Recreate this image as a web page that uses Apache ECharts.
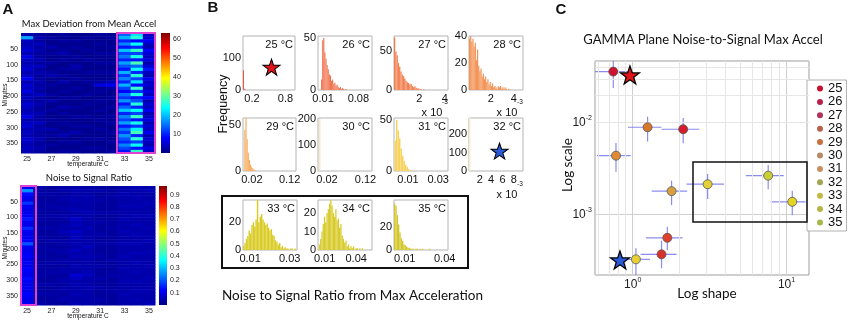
<!DOCTYPE html>
<html>
<head>
<meta charset="utf-8">
<script src="https://cdn.jsdelivr.net/npm/echarts@6/dist/echarts.min.js"></script>
<style>html,body{margin:0;padding:0;background:#fff}#chart{width:850px;height:321px}</style>
</head>
<body>
<div id="chart"></div>
<script>
// ---------- data ----------
const temps = ['25', '26', '27', '28', '29', '30', '31', '32', '33', '34', '35'];

// A: max deviation from mean accel, one array per temperature, 10-minute rows
const maxDev25 = [3,18,4,3,4,5,3,6,4,3,4,5,3,4,7,3,5,4,6,3,4,3,5,4,3,4,6,3,4,5,3,4,3,5,4,3,4,3];
const maxDev26 = [2,3,2,4,2,3,2,2,3,2,4,2,3,2,2,3,2,3,2,4,2,2,3,2,2,3,2,2,4,2,3,2,2,3,2,2,3,2];
const maxDev27 = [1,2,1,1,3,1,2,1,1,2,1,1,2,3,1,1,2,1,1,2,1,3,1,1,2,1,1,2,1,1,3,1,2,1,1,2,1,1];
const maxDev28 = [2,1,2,1,1,2,3,1,2,1,1,2,1,2,1,3,1,1,2,1,2,1,1,3,1,2,1,1,2,1,1,2,3,1,2,1,1,2];
const maxDev29 = [1,1,2,1,2,1,1,2,1,1,3,2,1,1,2,1,1,2,1,1,2,1,1,2,1,1,2,1,1,2,1,3,1,1,2,1,1,2];
const maxDev30 = [1,2,1,1,1,2,1,1,2,1,1,1,2,1,1,2,1,1,1,2,1,1,2,1,1,1,2,1,1,2,1,1,1,2,1,1,2,1];
const maxDev31 = [2,1,1,2,1,1,2,1,1,2,1,1,2,1,1,2,6,1,2,1,1,2,1,1,2,1,1,2,1,1,2,1,1,2,1,1,2,1];
const maxDev32 = [1,2,1,1,2,1,2,1,1,2,1,1,2,1,1,3,7,2,1,1,2,1,1,2,1,1,2,1,2,1,1,2,1,1,2,1,1,2];
const maxDev33 = [14,19,10,16,9,20,12,15,10,18,13,9,19,11,16,10,19,12,8,15,11,17,9,14,20,10,16,12,18,9,15,11,17,13,10,16,12,9];
const maxDev34 = [22,26,8,24,10,27,12,25,9,28,14,24,10,26,12,22,8,27,11,25,9,13,26,10,24,12,27,9,25,11,23,28,10,26,12,24,9,27];
const maxDev35 = [4,5,7,4,3,8,5,4,6,3,5,9,4,3,7,4,5,3,6,4,8,3,5,4,7,3,4,6,3,5,4,7,3,5,4,3,6,4];

// A: noise to signal ratio
const noise25 = [0.12,0.26,0.13,0.11,0.1,0.17,0.11,0.1,0.1,0.11,0.14,0.1,0.1,0.16,0.11,0.1,0.11,0.12,0.2,0.11,0.1,0.11,0.12,0.1,0.11,0.1,0.12,0.11,0.1,0.13,0.11,0.1,0.11,0.1,0.12,0.11,0.1,0.11];
const noise26 = [0.04,0.03,0.04,0.03,0.03,0.04,0.03,0.04,0.03,0.03,0.04,0.03,0.03,0.04,0.03,0.03,0.04,0.03,0.03,0.04,0.03,0.03,0.04,0.03,0.03,0.04,0.03,0.03,0.04,0.03,0.03,0.04,0.03,0.03,0.04,0.03,0.03,0.04];
const noise27 = [0.03,0.03,0.04,0.03,0.03,0.03,0.04,0.03,0.03,0.04,0.03,0.03,0.03,0.04,0.03,0.03,0.03,0.04,0.03,0.03,0.04,0.03,0.03,0.03,0.04,0.03,0.03,0.04,0.03,0.03,0.03,0.04,0.03,0.03,0.04,0.03,0.03,0.03];
const noise28 = [0.04,0.04,0.03,0.04,0.04,0.03,0.04,0.04,0.03,0.04,0.04,0.03,0.04,0.04,0.05,0.04,0.03,0.04,0.04,0.03,0.04,0.04,0.03,0.04,0.04,0.03,0.04,0.04,0.03,0.04,0.04,0.03,0.04,0.04,0.03,0.04,0.04,0.03];
const noise29 = [0.04,0.05,0.04,0.04,0.05,0.04,0.04,0.05,0.04,0.04,0.07,0.05,0.06,0.04,0.07,0.05,0.06,0.04,0.05,0.04,0.06,0.04,0.05,0.04,0.04,0.05,0.04,0.04,0.08,0.06,0.04,0.05,0.04,0.04,0.05,0.04,0.04,0.05];
const noise30 = [0.04,0.04,0.04,0.05,0.04,0.04,0.04,0.04,0.05,0.04,0.04,0.04,0.04,0.05,0.04,0.04,0.04,0.04,0.04,0.06,0.04,0.04,0.05,0.04,0.04,0.04,0.04,0.05,0.06,0.04,0.04,0.04,0.05,0.04,0.04,0.04,0.04,0.04];
const noise31 = [0.03,0.04,0.03,0.03,0.04,0.03,0.03,0.03,0.04,0.03,0.03,0.04,0.03,0.03,0.03,0.04,0.03,0.03,0.04,0.03,0.03,0.03,0.04,0.03,0.03,0.04,0.03,0.03,0.03,0.04,0.03,0.03,0.04,0.03,0.03,0.03,0.04,0.03];
const noise32 = [0.03,0.03,0.03,0.04,0.03,0.03,0.03,0.03,0.04,0.03,0.03,0.03,0.03,0.04,0.03,0.03,0.03,0.03,0.04,0.03,0.03,0.03,0.03,0.04,0.03,0.03,0.03,0.03,0.04,0.03,0.03,0.03,0.03,0.04,0.03,0.03,0.03,0.03];
const noise33 = [0.04,0.04,0.05,0.04,0.04,0.04,0.05,0.04,0.04,0.04,0.05,0.04,0.04,0.04,0.05,0.04,0.04,0.04,0.05,0.04,0.04,0.04,0.05,0.04,0.04,0.04,0.05,0.04,0.04,0.04,0.05,0.04,0.04,0.04,0.05,0.04,0.04,0.04];
const noise34 = [0.05,0.04,0.04,0.05,0.04,0.04,0.05,0.04,0.04,0.05,0.04,0.04,0.05,0.04,0.04,0.05,0.04,0.04,0.05,0.04,0.04,0.05,0.04,0.04,0.05,0.04,0.04,0.05,0.04,0.04,0.05,0.04,0.04,0.05,0.04,0.04,0.05,0.04];
const noise35 = [0.04,0.05,0.04,0.04,0.04,0.05,0.04,0.04,0.04,0.05,0.04,0.04,0.04,0.05,0.04,0.04,0.04,0.05,0.04,0.04,0.04,0.05,0.04,0.04,0.04,0.05,0.04,0.04,0.04,0.05,0.04,0.04,0.04,0.05,0.04,0.04,0.04,0.05];

// B: histogram counts per temperature
const hist25 = [62, 4, 1, 1];
const hist26 = [10,48,50,36,30,24,20,15,14,9,10,6,7,4,5,3,2,3,1,2,1,0,1];
const hist27 = [68,50,45,35,30,24,20,18,15,12,10,9,7,8,5,4,5,3,2,2,1,1,0,1];
const hist28 = [38,40,36,38,32,35,22,30,18,14,16,10,12,8,10,6,8,4,6,3,5,2,3,2,1,3,2,3,1,2,1,2,1,0,1];
const hist29 = [45,58,35,20,12,7,4,3,2,1];
const hist30 = [200];
const hist31 = [30,50,40,32,22,15,10,6,4,2,1];
const hist32 = [290];
const hist33 = [3,5,8,10,14,12,18,20,17,22,36,20,24,26,22,20,18,19,16,14,15,11,10,7,6,4,5,2,3,1,2,1,1,0,1,1,0,1];
const hist34 = [3,6,10,14,18,15,20,22,25,27,24,20,18,22,16,17,12,14,8,6,4,5,2,3,1,2,1,2,0,1,1,0,1,0,1];
const hist35 = [40,38,30,22,15,10,8,5,4,3,2,2,1,1,1,0,1,1,0,1,0,1,0,0,0,0,1];
const histCounts = [hist25, hist26, hist27, hist28, hist29, hist30, hist31, hist32, hist33, hist34, hist35];
// first bin start and bin width (27, 28, 32 in units of 1e-3)
const binStart = [0.04, 0.006, 0, 0.1, 0, 0, 0.001, 0.1, 0.0064, 0.0045, 0.002];
const binWidth = [0.012, 0.0022, 0.1, 0.1, 0.003, 0.002, 0.001, 0.25, 0.0007, 0.0012, 0.001];
const histXMin = [0.04, 0, 0, 0.1, -0.0035, -0.0035, 0.0007, 0.1, 0.0064, 0.0037, 0.002];
const histXMax = [0.97, 0.107, 4.25, 4.8, 0.137, 0.137, 0.0365, 9.6, 0.0337, 0.055, 0.0425];
const histYMax = [170, 52, 70, 40, 58, 204, 52, 290, 36, 27, 43];
const histXTicks = [[0.2, 0.8], [0.01, 0.08], [2, 4], [2, 4], [0.02, 0.12], [0.02, 0.12], [0.01, 0.03], [2, 4, 6, 8], [0.01, 0.03], [0.01, 0.04], [0.01, 0.04]];
const histYTicks = [[0, 100], [0, 50], [0, 50], [0, 20, 40], [0, 50], [0, 100, 200], [0, 50], [0, 100, 200], [0, 20], [0, 10, 20], [0, 20]];
// star markers inside the 25 and 32 panels (panel index, x, y)
const histStars = [[0, 0.55, 72, '#e01418'], [7, 5.47, 109, '#2a5ad8']];

// C: gamma fit, shape and scale with ranges
const shapeVals = [0.748, 2.13, 1.68, 1.25, 0.779, 1.54, 1.79, 1.05, 3.07, 7.6, 10.9];
const shapeLo   = [0.5, 1.54, 1.22, 0.932, 0.586, 1.127, 1.33, 0.827, 2.24, 5.44, 7.87];
const shapeHi   = [0.932, 2.71, 2.11, 1.54, 0.97, 1.93, 2.26, 1.295, 3.92, 9.6, 13.3];
const scaleVals = [0.036, 0.00847, 0.000555, 0.00891, 0.00436, 0.000366, 0.00179, 0.000323, 0.00213, 0.00264, 0.00137];
const scaleLo   = [0.0239, 0.00596, 0.000407, 0.00621, 0.00292, 0.000258, 0.00126, 0.000217, 0.00147, 0.00188, 0.00098];
const scaleHi   = [0.06, 0.01125, 0.000733, 0.01163, 0.006, 0.000515, 0.00233, 0.000426, 0.00276, 0.00345, 0.00181];
const starRed = [0.96, 0.0331];
const starBlue = [0.827, 0.000318];

// ---------- styling ----------
const TICK_FONT = 'Liberation Sans';
const TITLE_FONT = 'Lato';
const jet = ['#000080', '#0000ff', '#0080ff', '#00ffff', '#80ff80', '#ffff00', '#ff8000', '#ff0000', '#800000'];
const histColors = ['#e8412c', '#f0643c', '#f27440', '#f3853f', '#f7a24a', '#f9d9a7', '#f8cf55', '#f8eec0', '#d7c812', '#d4c615', '#cfc31a'];
const histLayout = [
    [243, 36, 52, 54], [318, 36, 54, 54], [394, 36, 54, 54], [469, 36, 54, 54],
    [243, 118, 53, 53], [318, 118, 54, 53], [394, 118, 54, 53], [469, 118, 54, 53],
    [243, 200, 54, 50], [318, 200, 54, 50], [394, 200, 54, 50]
];
const pointColors = ['#d0122e', '#d41c2c', '#e0402a', '#d8782a', '#e08c34', '#d8302a', '#d8a040', '#e6d034', '#e2d036', '#cad034', '#e4d424'];
const legendColors = ['#c8102e', '#b8204e', '#b0305e', '#b86048', '#c87040', '#b88a68', '#c89060', '#a4a454', '#c4b848', '#b8b444', '#a8b848'];
const STAR = 'path://M50,0L61.8,35.1L98.1,35.1L68.8,56.7L79.4,91L50,70L20.6,91L31.2,56.7L1.9,35.1L38.2,35.1Z';

let dom = document.getElementById('chart');
let myChart = echarts.init(dom, null, { renderer: 'canvas' });

const grids = [], xAxes = [], yAxes = [], series = [], visualMaps = [], graphics = [];

function heatCell(params, api) {
    const p = api.coord([api.value(0), api.value(1)]);
    const s = api.size([1, 10]);
    return {
        type: 'rect',
        shape: { x: p[0] - s[0] / 2, y: p[1], width: s[0] + 0.5, height: s[1] + 0.5 },
        style: { fill: api.visual('color') }
    };
}

function colorBar(params, api) {
    const top = api.coord([0, api.value(2)]);
    const bot = api.coord([0, api.value(1)]);
    const w = api.size([1, 0])[0];
    const stops = jet.slice().reverse().map((c, i) => ({ offset: i / (jet.length - 1), color: c }));
    return {
        type: 'rect',
        shape: { x: top[0] - w / 2, y: top[1], width: w, height: bot[1] - top[1] },
        style: { fill: { type: 'linear', x: 0, y: 0, x2: 0, y2: 1, colorStops: stops } }
    };
}

// panel A heatmap + colorbar
function addHeat(cols, box, cbarBox, vmax, cbInterval) {
    const gi = grids.length;
    grids.push({ left: box[0], top: box[1], width: box[2], height: box[3] });
    grids.push({ left: cbarBox[0], top: cbarBox[1], width: cbarBox[2], height: cbarBox[3] });
    xAxes.push({
        type: 'category', gridIndex: gi, data: temps,
        axisLine: { show: false }, axisTick: { show: false },
        axisLabel: { interval: 1, fontSize: 7, margin: 3, color: '#222', fontFamily: TICK_FONT }
    });
    yAxes.push({
        type: 'value', gridIndex: gi, inverse: true, min: 0, max: 380, interval: 50,
        axisLine: { show: false }, axisTick: { show: false }, splitLine: { show: false },
        axisLabel: { showMinLabel: false, showMaxLabel: false, fontSize: 7, margin: 3, color: '#222', fontFamily: TICK_FONT }
    });
    xAxes.push({ type: 'category', gridIndex: gi + 1, data: ['c'], show: false });
    yAxes.push({
        type: 'value', gridIndex: gi + 1, position: 'right', min: 0, max: vmax, interval: cbInterval,
        axisLine: { show: false }, axisTick: { show: false }, splitLine: { show: false },
        axisLabel: { showMinLabel: false, showMaxLabel: false, fontSize: 7, margin: 3, color: '#222', fontFamily: TICK_FONT }
    });
    const data = [];
    cols.forEach((col, i) => col.forEach((v, r) => data.push([i, r * 10, v])));
    visualMaps.push({
        show: false, seriesIndex: series.length, dimension: 2, min: 0, max: vmax,
        inRange: { color: jet }
    });
    series.push({
        type: 'custom', xAxisIndex: gi, yAxisIndex: gi, renderItem: heatCell,
        data: data, silent: true
    });
    series.push({
        type: 'custom', xAxisIndex: gi + 1, yAxisIndex: gi + 1, renderItem: colorBar,
        data: [[0, 0, vmax]], silent: true
    });
}

addHeat([maxDev25, maxDev26, maxDev27, maxDev28, maxDev29, maxDev30, maxDev31, maxDev32, maxDev33, maxDev34, maxDev35],
    [21, 33, 134, 120], [161, 33, 9, 120], 63, 10);
addHeat([noise25, noise26, noise27, noise28, noise29, noise30, noise31, noise32, noise33, noise34, noise35],
    [21, 186, 134, 119], [159, 186, 8, 119], 0.97, 0.1);

// panel B histograms
const histGrid = [];
histCounts.forEach((counts, k) => {
    const gi = grids.length;
    histGrid.push(gi);
    const L = histLayout[k];
    grids.push({ left: L[0], top: L[1], width: L[2], height: L[3], show: true, borderColor: '#b4b4b4', borderWidth: 1, backgroundColor: '#fff' });
    xAxes.push({
        type: 'value', gridIndex: gi, min: histXMin[k], max: histXMax[k],
        axisLine: { show: false }, axisTick: { show: false }, splitLine: { show: false },
        axisLabel: { customValues: histXTicks[k], fontSize: 11, margin: 3, color: '#111', fontFamily: TICK_FONT }
    });
    yAxes.push({
        type: 'value', gridIndex: gi, min: 0, max: histYMax[k],
        axisLine: { show: false }, axisTick: { show: false }, splitLine: { show: false },
        axisLabel: { customValues: histYTicks[k], fontSize: 11, margin: 2, color: '#111', fontFamily: TICK_FONT }
    });
    const w = binWidth[k];
    const color = histColors[k];
    series.push({
        type: 'custom', xAxisIndex: gi, yAxisIndex: gi, clip: true, silent: true,
        data: counts.map((c, i) => [binStart[k] + i * w, c]),
        renderItem: function (params, api) {
            const p0 = api.coord([api.value(0), 0]);
            const p1 = api.coord([api.value(0) + w, api.value(1)]);
            return {
                type: 'rect',
                shape: { x: p0[0], y: p1[1], width: Math.max(p1[0] - p0[0], 1), height: p0[1] - p1[1] },
                style: { fill: color, stroke: 'rgba(255,255,255,0.35)', lineWidth: 0.3 }
            };
        }
    });
    graphics.push({
        type: 'text', x: L[0] + L[2] - 2, y: L[1] + 3, z: 100,
        style: { text: temps[k] + ' °C', fontSize: 11, fontFamily: TICK_FONT, fill: '#111', align: 'right', verticalAlign: 'top' }
    });
});
histStars.forEach(s => {
    const gi = histGrid[s[0]];
    series.push({
        type: 'scatter', xAxisIndex: gi, yAxisIndex: gi, silent: true, z: 6,
        symbol: STAR, symbolSize: [17, 16], data: [[s[1], s[2]]],
        itemStyle: { color: s[3], borderColor: '#000', borderWidth: 1, opacity: 1 }
    });
});

// panel C
const gC = grids.length;
grids.push({ left: 595, top: 61, width: 214, height: 214, show: true, borderColor: '#9a9a9a', borderWidth: 1 });
function powLabel(v) {
    const e = Math.round(Math.log10(v));
    if (Math.abs(Math.log10(v) - e) > 1e-6) return '';
    return '{b|10}{s|' + e + '}';
}
const powRich = {
    b: { fontSize: 12, fontFamily: TICK_FONT, color: '#222', lineHeight: 16 },
    s: { fontSize: 7, fontFamily: TICK_FONT, color: '#222', verticalAlign: 'top' }
};
xAxes.push({
    type: 'log', logBase: 10, gridIndex: gC, min: 0.569, max: 14,
    axisLine: { show: false }, axisTick: { show: false },
    splitLine: { show: true, lineStyle: { color: '#cfcfcf' } },
    axisLabel: { formatter: powLabel, rich: powRich, margin: 2 }
});
yAxes.push({
    type: 'log', logBase: 10, gridIndex: gC, min: 0.000218, max: 0.047,
    axisLine: { show: false }, axisTick: { show: false },
    splitLine: { show: true, lineStyle: { color: '#cfcfcf' } },
    axisLabel: { formatter: powLabel, rich: powRich, margin: 3 }
});
const minorX = [0.6, 0.7, 0.8, 0.9, 2, 3, 4, 5, 6, 7, 8, 9];
const minorY = [0.0003, 0.0004, 0.0005, 0.0006, 0.0007, 0.0008, 0.0009,
    0.002, 0.003, 0.004, 0.005, 0.006, 0.007, 0.008, 0.009, 0.02, 0.03, 0.04];
series.push({
    type: 'scatter', xAxisIndex: gC, yAxisIndex: gC, data: [[1, 0.001]], symbolSize: 0, silent: true,
    markLine: {
        silent: true, symbol: 'none', label: { show: false }, animation: false,
        lineStyle: { color: '#e6e6e6', width: 1, type: 'solid' },
        data: minorX.map(v => ({ xAxis: v })).concat(minorY.map(v => ({ yAxis: v })))
    }
});
series.push({
    type: 'custom', xAxisIndex: gC, yAxisIndex: gC, clip: true, silent: true, z: 3,
    data: temps.map((t, i) => [shapeVals[i], scaleVals[i], shapeLo[i], shapeHi[i], scaleLo[i], scaleHi[i]]),
    renderItem: function (params, api) {
        const c = api.coord([api.value(0), api.value(1)]);
        const xl = api.coord([api.value(2), api.value(1)]);
        const xh = api.coord([api.value(3), api.value(1)]);
        const yl = api.coord([api.value(0), api.value(4)]);
        const yh = api.coord([api.value(0), api.value(5)]);
        const st = { stroke: 'rgba(120,120,235,0.85)', lineWidth: 1.2 };
        return {
            type: 'group', children: [
                { type: 'line', shape: { x1: xl[0], y1: c[1], x2: xh[0], y2: c[1] }, style: st },
                { type: 'line', shape: { x1: c[0], y1: yl[1], x2: c[0], y2: yh[1] }, style: st }
            ]
        };
    }
});
temps.forEach((t, i) => {
    series.push({
        type: 'scatter', name: t, xAxisIndex: gC, yAxisIndex: gC, z: 5,
        data: [[shapeVals[i], scaleVals[i]]], symbolSize: 9,
        itemStyle: { color: pointColors[i], borderColor: '#555', borderWidth: 0.8, opacity: 1 }
    });
});
series.push({
    type: 'scatter', name: 'stars', xAxisIndex: gC, yAxisIndex: gC, z: 6,
    symbol: STAR, symbolSize: [19, 18],
    data: [
        { value: starRed, itemStyle: { color: '#e01418' } },
        { value: starBlue, itemStyle: { color: '#2a5ad8' } }
    ],
    itemStyle: { borderColor: '#000', borderWidth: 1.2, opacity: 1 }
});

// text & frames
function txt(text, x, y, size, font, extra) {
    const el = {
        type: 'text', x: x, y: y, z: 100,
        style: { text: text, fontSize: size, fontFamily: font, fill: '#111', align: 'center', verticalAlign: 'middle' }
    };
    if (extra) {
        if (extra.rotation) el.rotation = extra.rotation;
        Object.assign(el.style, extra.style || {});
    }
    graphics.push(el);
}
function box(x, y, w, h, color, lw) {
    graphics.push({ type: 'rect', z: 100, shape: { x: x, y: y, width: w, height: h }, style: { fill: 'none', stroke: color, lineWidth: lw } });
}
txt('A', 8, 10, 15, TICK_FONT, { style: { fontWeight: 'bold' } });
txt('B', 213, 8, 15, TICK_FONT, { style: { fontWeight: 'bold' } });
txt('C', 561, 10, 15, TICK_FONT, { style: { fontWeight: 'bold' } });
txt('Max Deviation from Mean Accel', 89, 24, 9.5, TITLE_FONT);
txt('Noise to Signal Ratio', 89, 178, 9.5, TITLE_FONT);
txt('Minutes', 5, 95, 6.5, TICK_FONT, { rotation: Math.PI / 2 });
txt('Minutes', 5, 248, 6.5, TICK_FONT, { rotation: Math.PI / 2 });
txt('temperature C', 88, 164, 6.5, TICK_FONT);
txt('temperature C', 88, 316, 6.5, TICK_FONT);
txt('Frequency', 224, 104, 12.5, TICK_FONT, { rotation: Math.PI / 2 });
txt('x 10', 432, 113, 11, TICK_FONT);
txt('-3', 445, 102, 6.5, TICK_FONT);
txt('x 10', 507, 113, 11, TICK_FONT);
txt('-3', 520, 102, 6.5, TICK_FONT);
txt('x 10', 507, 195, 11, TICK_FONT);
txt('-3', 520, 184, 6.5, TICK_FONT);
txt('Noise to Signal Ratio from Max Acceleration', 222, 296, 13.5, TITLE_FONT, { style: { align: 'left' } });
txt('GAMMA Plane Noise-to-Signal Max Accel', 703, 40, 13, TITLE_FONT);
txt('Log scale', 568, 165, 13.5, TITLE_FONT, { rotation: Math.PI / 2 });
txt('Log shape', 707, 294, 13.5, TITLE_FONT);
box(117, 33, 38, 120, '#e040d0', 2);
box(21, 186, 15, 119, '#e040d0', 2);
box(222, 196, 246, 72, '#111', 2);
box(693, 162, 114, 60, '#111', 1.5);

let option = {
    animation: false,
    backgroundColor: '#fff',
    textStyle: { fontFamily: TICK_FONT },
    grid: grids,
    xAxis: xAxes,
    yAxis: yAxes,
    visualMap: visualMaps,
    legend: {
        left: 807, top: 80, orient: 'vertical', icon: 'circle',
        itemWidth: 6, itemHeight: 6, itemGap: 0.4,
        padding: [2, 4, 2, 10],
        backgroundColor: '#fff', borderColor: '#b0b0b0', borderWidth: 1,
        textStyle: { fontSize: 13, fontFamily: TICK_FONT, color: '#111', lineHeight: 13 },
        data: temps.map((t, i) => ({ name: t, itemStyle: { color: legendColors[i], borderWidth: 0 } }))
    },
    series: series,
    graphic: { elements: graphics }
};

if (option && typeof option === 'object') {
    myChart.setOption(option);
}

window.addEventListener('resize', myChart.resize);
</script>
</body>
</html>
